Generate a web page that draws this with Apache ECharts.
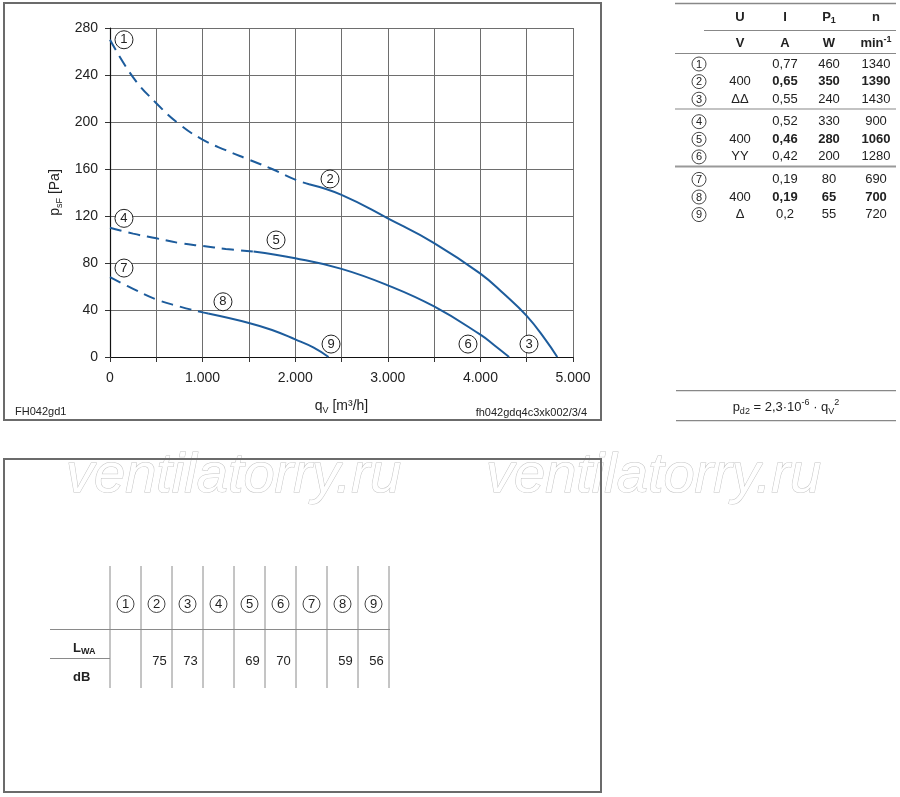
<!DOCTYPE html>
<html>
<head>
<meta charset="utf-8">
<script src="https://cdn.jsdelivr.net/npm/echarts@6/dist/echarts.min.js"></script>
<style>
html,body{margin:0;padding:0;background:#fff;}
#c{width:900px;height:797px;}
</style>
</head>
<body>
<div id="c"></div>
<script>
// ---------- data ----------
const xTicks = [0, 1000, 2000, 3000, 4000, 5000];
const yTicks = [0, 40, 80, 120, 160, 200, 240, 280];

// curve 1-2-3 (ΔΔ)
const curveA_dashed = [[0,270],[250,238],[500,216],[750,198],[1000,185],[1250,176],[1500,168],[1750,160],[2000,151],[2150,147]];
const curveA_solid  = [[2150,147],[2500,138],[3000,118],[3500,97],[4000,71],[4250,54],[4500,35],[4700,15],[4830,0]];
// curve 4-5-6 (YY)
const curveB_dashed = [[0,110],[250,105],[500,101],[750,97],[1000,94.5],[1250,92],[1550,89.8]];
const curveB_solid  = [[1550,89.8],[2000,84],[2500,75],[3000,61],[3500,43],[4000,19],[4150,10],[4310,0]];
// curve 7-8-9 (Δ)
const curveC_dashed = [[0,68],[250,58],[500,49],[750,43],[1000,38],[1060,37]];
const curveC_solid  = [[1060,37],[1500,29],[1750,23],[2000,15],[2200,8],[2360,0]];

// operating point markers
const pointIds = ['1','2','3','4','5','6','7','8','9'];
const pointPos = [[151,270],[2376,151.5],[4525,11],[151,118],[1793,99.6],[3866,11],[151,75.7],[1220,47],[2387,11]];

// data table
const headU = 'U', headI = 'I', headP = 'P', headN = 'n';
const unitU = 'V', unitI = 'A', unitP = 'W', unitN = 'min';
const voltage = ['', '400', 'ΔΔ', '', '400', 'YY', '', '400', 'Δ'];
const current = ['0,77','0,65','0,55','0,52','0,46','0,42','0,19','0,19','0,2'];
const power   = ['460','350','240','330','280','200','80','65','55'];
const speed   = ['1340','1390','1430','900','1060','1280','690','700','720'];
const boldRows = [1, 4, 7];

// sound power table
const soundLevels = ['', '75', '73', '', '69', '70', '', '59', '56'];

// ---------- build ----------
const FONT = '"Liberation Sans", Arial, sans-serif';
const BLUE = '#1d5c9c';
const TXT = '#222';

function fmtThousand(v){
  if (v === 0) return '0';
  const s = String(v);
  return s.slice(0, s.length-3) + '.' + s.slice(s.length-3);
}

const g = [];
function txt(x, y, text, opt){
  opt = opt || {};
  g.push({type:'text', x:x, y:y, silent:true, z:opt.z||10, style:Object.assign({
    text:text, fill:TXT, font:(opt.bold?'bold ':'')+(opt.size||13)+'px '+FONT,
    align:opt.align||'center', verticalAlign:opt.va||'middle',
    textAlign:opt.align||'center', textVerticalAlign:opt.va||'middle'
  }, opt.style||{})});
}
function line(x1,y1,x2,y2,color,w){
  g.push({type:'line', silent:true, z:5, shape:{x1:x1,y1:y1,x2:x2,y2:y2}, style:{stroke:color||'#777', lineWidth:w||1}});
}
function circ(cx, cy, r, label, size){
  g.push({type:'circle', silent:true, z:8, shape:{cx:cx,cy:cy,r:r}, style:{fill:'#fff', stroke:'#333', lineWidth:0.9}});
  txt(cx, cy+0.5, label, {size:size||11, z:9});
}

// watermarks (behind frames)
[66, 486].forEach(function(x){
  g.push({type:'text', x:x, y:476, silent:true, z:0, style:{
    text:'ventilatorry.ru', font:'italic 56px '+FONT, fill:'#ffffff', stroke:'#c4c4c4', lineWidth:1,
    align:'left', verticalAlign:'middle', textAlign:'left', textVerticalAlign:'middle'
  }});
});

// frames
g.push({type:'rect', silent:true, z:2, shape:{x:4,y:3,width:597,height:417}, style:{fill:'none', stroke:'#6b6b6b', lineWidth:2}});
g.push({type:'rect', silent:true, z:2, shape:{x:4,y:459,width:597,height:333}, style:{fill:'none', stroke:'#6b6b6b', lineWidth:2}});

// footer texts of chart
txt(15, 412, 'FH042gd1', {align:'left', size:11});
txt(587, 413, 'fh042gdq4c3xk002/3/4', {align:'right', size:11});

// right data table
const cU = 740, cI = 785, cP = 829, cN = 876, cId = 699;
line(675, 3.5, 896, 3.5, '#888', 1.5);
line(704, 30.5, 896, 30.5, '#888', 1.2);
line(675, 53.5, 896, 53.5, '#888', 1.2);
line(675, 109, 896, 109, '#888', 1.2);
line(675, 166.5, 896, 166.5, '#999', 2);
txt(cU, 17, headU, {bold:true});
txt(cI, 17, headI, {bold:true});
g.push({type:'text', x:cP, y:17, silent:true, z:10, style:{
  text:'{a|'+headP+'}{b|1}', align:'center', verticalAlign:'middle', textAlign:'center', textVerticalAlign:'middle',
  rich:{a:{font:'bold 13px '+FONT, fill:TXT, lineHeight:16}, b:{font:'bold 9px '+FONT, fill:TXT, lineHeight:10, verticalAlign:'bottom'}}
}});
txt(cN, 17, headN, {bold:true});
txt(cU, 43, unitU, {bold:true});
txt(cI, 43, unitI, {bold:true});
txt(cP, 43, unitP, {bold:true});
g.push({type:'text', x:cN, y:43, silent:true, z:10, style:{
  text:'{a|'+unitN+'}{b|-1}', align:'center', verticalAlign:'middle', textAlign:'center', textVerticalAlign:'middle',
  rich:{a:{font:'bold 13px '+FONT, fill:TXT, lineHeight:16}, b:{font:'bold 9px '+FONT, fill:TXT, lineHeight:10, verticalAlign:'top'}}
}});
for (let i = 0; i < pointIds.length; i++){
  const grp = Math.floor(i/3), k = i%3;
  const y = 64 + grp*57.7 + k*17.6;
  const b = boldRows.indexOf(i) >= 0;
  circ(cId, y, 7, pointIds[i], 11);
  if (voltage[i]) txt(cU, y, voltage[i], {});
  txt(cI, y, current[i], {bold:b});
  txt(cP, y, power[i], {bold:b});
  txt(cN, y, speed[i], {bold:b});
}
// formula
line(676, 390.7, 896, 390.7, '#888', 1.2);
line(676, 420.7, 896, 420.7, '#888', 1.2);
g.push({type:'text', x:786, y:407, silent:true, z:10, style:{
  text:'{a|p}{s|d2}{a| = 2,3·10}{u|-6}{a| · q}{s|V}{u|2}', align:'center', verticalAlign:'middle', textAlign:'center', textVerticalAlign:'middle',
  rich:{a:{font:'13px '+FONT, fill:TXT, lineHeight:18}, s:{font:'9px '+FONT, fill:TXT, lineHeight:10, verticalAlign:'bottom'}, u:{font:'9px '+FONT, fill:TXT, lineHeight:10, verticalAlign:'top'}}
}});

// sound table
const sx0 = 110, sdx = 31;
for (let i = 0; i <= pointIds.length; i++){
  line(sx0 + i*sdx, 566, sx0 + i*sdx, 688, '#8a8a8a', 1);
}
line(50, 629.5, 390, 629.5, '#8a8a8a', 1);
line(50, 658.5, 110, 658.5, '#8a8a8a', 1);
for (let i = 0; i < pointIds.length; i++){
  const cx = sx0 + i*sdx + sdx/2;
  circ(cx, 604, 8.5, pointIds[i], 13);
  if (soundLevels[i]) txt(cx + 3, 661, soundLevels[i], {size:13});
}
g.push({type:'text', x:73, y:648, silent:true, z:10, style:{
  text:'{a|L}{b|WA}', align:'left', verticalAlign:'middle', textAlign:'left', textVerticalAlign:'middle',
  rich:{a:{font:'bold 13px '+FONT, fill:TXT, lineHeight:16}, b:{font:'bold 9px '+FONT, fill:TXT, lineHeight:10, verticalAlign:'bottom'}}
}});
txt(73, 677, 'dB', {bold:true, align:'left'});

function lineSeries(data, dashed){
  return {type:'line', data:data, smooth:0.45, showSymbol:false, symbol:'none', silent:true, z:3,
    lineStyle:{color:BLUE, width:2, type: dashed ? [12,7] : 'solid'}, animation:false};
}

const chart = echarts.init(document.getElementById('c'), null, {renderer:'canvas'});
chart.setOption({
  animation:false,
  backgroundColor:'#fff',
  textStyle:{fontFamily:FONT},
  grid:{left:110, top:28, width:463, height:329, containLabel:false},
  xAxis:{
    type:'value', min:0, max:5000, interval:500,
    name:'{a|q}{b|V}{a| [m³/h]}', nameLocation:'middle', nameGap:40,
    nameTextStyle:{rich:{a:{fontSize:14, color:TXT, fontFamily:FONT, lineHeight:18}, b:{fontSize:9, color:TXT, fontFamily:FONT, lineHeight:10, verticalAlign:'bottom'}}},
    axisLine:{show:true, onZero:false, lineStyle:{color:'#111', width:1.2}},
    axisTick:{show:true, length:5, lineStyle:{color:'#333'}},
    axisLabel:{margin:14, fontSize:14, color:TXT, fontFamily:FONT,
      formatter:function(v){ return xTicks.indexOf(v) >= 0 ? fmtThousand(v) : ''; }},
    splitLine:{show:true, lineStyle:{color:'#6e6e6e', width:1}}
  },
  yAxis:{
    type:'value', min:0, max:280, interval:40,
    name:'{a|p}{b|sF}{a| [Pa]}', nameLocation:'middle', nameGap:40, nameRotate:90,
    nameTextStyle:{rich:{a:{fontSize:14, color:TXT, fontFamily:FONT, lineHeight:18}, b:{fontSize:9, color:TXT, fontFamily:FONT, lineHeight:10, verticalAlign:'bottom'}}},
    axisLine:{show:true, lineStyle:{color:'#111', width:1.2}},
    axisTick:{show:true, length:5, lineStyle:{color:'#333'}},
    axisLabel:{margin:12, fontSize:14, color:TXT, fontFamily:FONT,
      formatter:function(v){ return yTicks.indexOf(v) >= 0 ? String(v) : ''; }},
    splitLine:{show:true, lineStyle:{color:'#6e6e6e', width:1}}
  },
  series:[
    lineSeries(curveA_dashed, true), lineSeries(curveA_solid, false),
    lineSeries(curveB_dashed, true), lineSeries(curveB_solid, false),
    lineSeries(curveC_dashed, true), lineSeries(curveC_solid, false),
    {type:'scatter', data:pointPos, symbol:'circle', symbolSize:18, silent:true, z:6,
     itemStyle:{color:'#fff', borderColor:'#222', borderWidth:1, opacity:1},
     label:{show:true, position:'inside', color:TXT, fontSize:13, fontFamily:FONT,
       formatter:function(p){ return pointIds[p.dataIndex]; }},
     emphasis:{disabled:true}, animation:false}
  ],
  graphic:{elements:g}
});
</script>
</body>
</html>
